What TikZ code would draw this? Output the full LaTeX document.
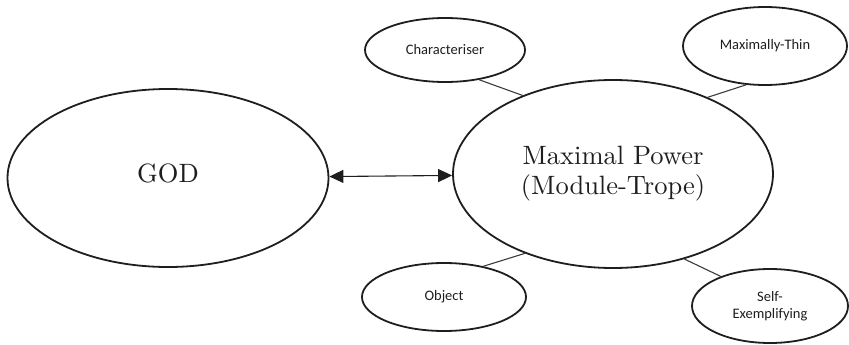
\documentclass[tikz,border=0pt]{standalone}
\usepackage{fontspec}
\newfontfamily\smallfont{Carlito}
\newfontfamily\bigserif{lmroman10-regular}[Extension=.otf]
\usetikzlibrary{shapes.geometric,arrows.meta}
\definecolor{ink}{HTML}{1E1E1E}
\definecolor{conn}{HTML}{3C3C3C}
\tikzset{
  bigell/.style={ellipse, draw=ink, line width=1.8pt, inner sep=0pt, text=ink,
    font=\bigserif\fontsize{26.5}{30}\selectfont, align=center},
  smallell/.style={ellipse, draw=ink, line width=1.8pt, inner sep=0pt, text=ink,
    font=\smallfont\fontsize{14.5}{16.5}\selectfont, align=center},
  link/.style={draw=conn, line width=1.1pt},
  dblarrow/.style={draw=ink, line width=1.1pt, {Triangle[length=14pt,width=13pt]}-{Triangle[length=14pt,width=13pt]}}
}
\begin{document}
\begin{tikzpicture}[x=1pt,y=-1pt]
\useasboundingbox (0,0) rectangle (849,345);
\node[bigell, minimum width=321pt, minimum height=178pt, text depth=10pt] (god) at (168,178) {GOD};
\node[bigell, minimum width=320pt, minimum height=188pt] (maxp) at (613,174) {Maximal Power\\(Module-Trope)};
\node[smallell, minimum width=160pt, minimum height=64pt] (char) at (445,50) {Characteriser};
\node[smallell, minimum width=164pt, minimum height=78pt] (thin) at (765,46) {Maximally-Thin};
\node[smallell, minimum width=164pt, minimum height=68pt] (obj) at (444,297) {Object};
\node[smallell, minimum width=156pt, minimum height=74pt] (self) at (770,306) {Self-\\Exemplifying};
\draw[dblarrow] (god) -- (maxp);
\draw[link] (char.-41) -- (maxp.139);
\draw[link] (thin.-116) -- (maxp.39);
\draw[link] (obj.38) -- (maxp.-138);
\draw[link] (self.149) -- (maxp.-50);
\end{tikzpicture}
\end{document}
